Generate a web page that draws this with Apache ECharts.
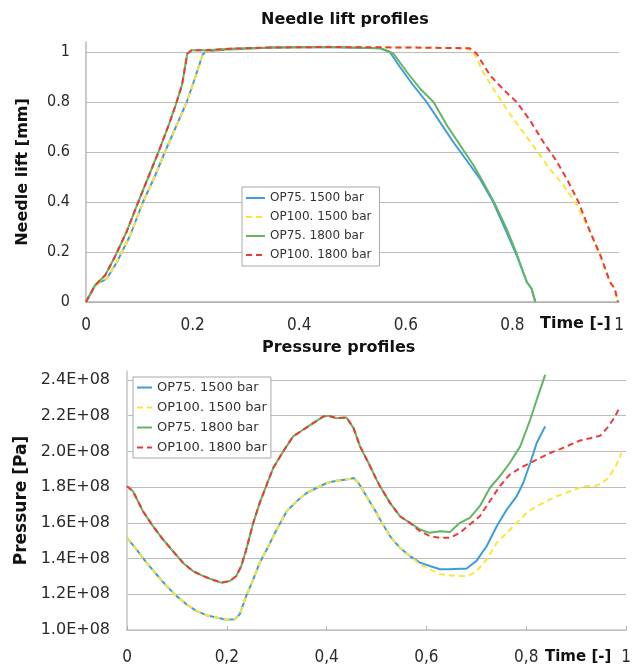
<!DOCTYPE html>
<html>
<head>
<meta charset="utf-8">
<script src="https://cdn.jsdelivr.net/npm/echarts@6/dist/echarts.min.js"></script>
<style>
  html, body { margin: 0; padding: 0; background: #fff; }
  #chart { width: 635px; height: 666px; }
</style>
</head>
<body>
<div id="chart"></div>
<script>
// Series names shared by both panels
const seriesNames = ['OP75. 1500 bar', 'OP100. 1500 bar', 'OP75. 1800 bar', 'OP100. 1800 bar'];

// ---- Needle lift [mm] vs normalised time ----
const liftRise1500 = [[0,0],[0.017,0.067],[0.039,0.093],[0.058,0.16],[0.083,0.267],[0.107,0.4],[0.13,0.507],[0.148,0.6],[0.17,0.707],[0.189,0.8],[0.204,0.893],[0.219,0.99],[0.226,1.003],[0.27,1.01],[0.35,1.018],[0.45,1.02]];
const liftRise1800 = [[0,0],[0.017,0.067],[0.036,0.107],[0.054,0.18],[0.076,0.28],[0.098,0.4],[0.117,0.5],[0.136,0.6],[0.155,0.707],[0.167,0.78],[0.18,0.867],[0.19,0.993],[0.198,1.007],[0.226,1.007],[0.27,1.013],[0.35,1.018],[0.45,1.02]];
const liftFallOP75_1500 = [[0.552,1.015],[0.57,1.0],[0.589,0.94],[0.614,0.867],[0.639,0.8],[0.664,0.72],[0.689,0.64],[0.714,0.567],[0.739,0.493],[0.764,0.4],[0.789,0.28],[0.808,0.187],[0.827,0.08],[0.836,0.053],[0.843,0]];
const liftFallOP100_1500 = [[0.6,1.018],[0.715,1.015],[0.728,0.995],[0.745,0.92],[0.77,0.833],[0.795,0.753],[0.82,0.68],[0.845,0.607],[0.87,0.533],[0.896,0.467],[0.921,0.387],[0.943,0.293],[0.965,0.187],[0.983,0.08],[0.992,0.053],[0.998,0]];
const liftFallOP75_1800 = [[0.552,1.015],[0.565,1.005],[0.577,0.993],[0.602,0.92],[0.627,0.853],[0.652,0.8],[0.677,0.707],[0.702,0.627],[0.727,0.547],[0.745,0.48],[0.767,0.393],[0.789,0.293],[0.808,0.193],[0.827,0.08],[0.836,0.053],[0.843,0]];
const liftFallOP100_1800 = [[0.6,1.018],[0.72,1.015],[0.733,0.993],[0.758,0.907],[0.783,0.85],[0.808,0.8],[0.833,0.727],[0.858,0.64],[0.88,0.573],[0.902,0.493],[0.924,0.4],[0.946,0.28],[0.965,0.187],[0.983,0.08],[0.992,0.053],[0.998,0]];

// ---- Pressure [Pa] vs normalised time ----
const press1500Common = [[0,1.516e8],[0.019,1.451e8],[0.039,1.377e8],[0.059,1.312e8],[0.079,1.247e8],[0.099,1.191e8],[0.119,1.144e8],[0.139,1.107e8],[0.159,1.083e8],[0.179,1.07e8],[0.199,1.057e8],[0.216,1.06e8],[0.226,1.088e8],[0.239,1.191e8],[0.253,1.284e8],[0.266,1.377e8],[0.28,1.451e8],[0.3,1.563e8],[0.32,1.665e8],[0.34,1.721e8],[0.36,1.767e8],[0.38,1.795e8],[0.4,1.823e8],[0.42,1.836e8],[0.44,1.842e8],[0.454,1.851e8],[0.464,1.823e8],[0.48,1.749e8],[0.5,1.656e8],[0.507,1.619e8],[0.527,1.526e8],[0.547,1.46e8],[0.567,1.414e8]];
const pressOP75_1500 = [[0.587,1.377e8],[0.607,1.358e8],[0.627,1.34e8],[0.647,1.34e8],[0.667,1.343e8],[0.68,1.343e8],[0.7,1.386e8],[0.721,1.47e8],[0.741,1.581e8],[0.761,1.674e8],[0.781,1.749e8],[0.794,1.823e8],[0.808,1.935e8],[0.821,2.047e8],[0.838,2.14e8]];
const pressOP100_1500 = [[0.587,1.367e8],[0.607,1.34e8],[0.627,1.312e8],[0.647,1.306e8],[0.667,1.302e8],[0.684,1.302e8],[0.7,1.33e8],[0.721,1.395e8],[0.741,1.488e8],[0.761,1.544e8],[0.781,1.6e8],[0.801,1.656e8],[0.821,1.693e8],[0.841,1.721e8],[0.861,1.749e8],[0.888,1.777e8],[0.915,1.805e8],[0.942,1.808e8],[0.961,1.842e8],[0.978,1.907e8],[0.991,1.991e8]];
const press1800Common = [[0,1.805e8],[0.012,1.777e8],[0.032,1.665e8],[0.052,1.581e8],[0.072,1.507e8],[0.092,1.442e8],[0.112,1.377e8],[0.132,1.33e8],[0.153,1.302e8],[0.173,1.28e8],[0.189,1.265e8],[0.206,1.274e8],[0.219,1.302e8],[0.229,1.358e8],[0.239,1.451e8],[0.253,1.6e8],[0.266,1.712e8],[0.28,1.814e8],[0.293,1.907e8],[0.313,2.0e8],[0.333,2.084e8],[0.353,2.121e8],[0.373,2.158e8],[0.393,2.195e8],[0.403,2.2e8],[0.42,2.186e8],[0.44,2.19e8],[0.454,2.13e8],[0.467,2.028e8],[0.484,1.935e8],[0.5,1.842e8],[0.507,1.805e8],[0.527,1.712e8],[0.547,1.637e8],[0.567,1.6e8]];
const pressOP75_1800 = [[0.587,1.563e8],[0.607,1.544e8],[0.627,1.553e8],[0.647,1.548e8],[0.667,1.6e8],[0.687,1.628e8],[0.707,1.693e8],[0.727,1.795e8],[0.747,1.86e8],[0.767,1.935e8],[0.788,2.028e8],[0.808,2.177e8],[0.821,2.288e8],[0.838,2.428e8]];
const pressOP100_1800 = [[0.587,1.553e8],[0.607,1.526e8],[0.627,1.516e8],[0.647,1.516e8],[0.667,1.544e8],[0.687,1.591e8],[0.707,1.637e8],[0.727,1.721e8],[0.747,1.805e8],[0.767,1.87e8],[0.788,1.907e8],[0.808,1.935e8],[0.828,1.963e8],[0.848,1.991e8],[0.868,2.013e8],[0.888,2.037e8],[0.908,2.061e8],[0.928,2.074e8],[0.948,2.087e8],[0.965,2.14e8],[0.978,2.195e8],[0.988,2.251e8]];

// Axis tick values
const timeTicks = [0, 0.2, 0.4, 0.6, 0.8, 1];
const liftTicks = [0, 0.2, 0.4, 0.6, 0.8, 1];
const pressureTicks = [1.0e8, 1.2e8, 1.4e8, 1.6e8, 1.8e8, 2.0e8, 2.2e8, 2.4e8];

const colors = ['#3d9dd8', '#fde43c', '#62b662', '#ec3b35'];
const dashed = [6, 4];
const lineTypes = ['solid', dashed, 'solid', dashed];

const narrowFont = '"Liberation Sans Narrow", "DejaVu Sans Condensed", "Liberation Sans", sans-serif';
const sansFont = '"DejaVu Sans", sans-serif';
const labelColor = '#2a2a2a';
const gridColor = '#bcbcbc';

const liftData = [
  liftRise1500.concat(liftFallOP75_1500),
  liftRise1500.concat(liftFallOP100_1500),
  liftRise1800.concat(liftFallOP75_1800),
  liftRise1800.concat(liftFallOP100_1800)
];
const pressData = [
  press1500Common.concat(pressOP75_1500),
  press1500Common.concat(pressOP100_1500),
  press1800Common.concat(pressOP75_1800),
  press1800Common.concat(pressOP100_1800)
];

function fmtTime(sep) {
  return function (v) {
    if (v === 0) return '0';
    if (v === 1) return '1';
    return v.toFixed(1).replace('.', sep);
  };
}

function makeSeries(dataSets, axisIndex) {
  return dataSets.map((d, i) => ({
    name: seriesNames[i],
    type: 'line',
    xAxisIndex: axisIndex,
    yAxisIndex: axisIndex,
    data: d,
    symbol: 'none',
    clip: false,
    animation: false,
    lineStyle: { color: colors[i], width: 2, type: lineTypes[i] },
    itemStyle: { color: colors[i] }
  }));
}

// legend shows only the line sample, no marker
const hiddenMarker = { opacity: 0, color: 'rgba(0,0,0,0)', borderWidth: 0 };

const option = {
  backgroundColor: '#fff',
  animation: false,
  title: [
    { text: 'Needle lift profiles', left: 261, top: 12, padding: 0,
      textStyle: { fontFamily: sansFont, fontWeight: 'bold', fontSize: 16, color: '#111' } },
    { text: 'Pressure profiles', left: 262, top: 340, padding: 0,
      textStyle: { fontFamily: sansFont, fontWeight: 'bold', fontSize: 16, color: '#111' } }
  ],
  legend: [
    { data: seriesNames, orient: 'vertical', left: 242, top: 187,
      padding: [5, 8, 5, 3], itemGap: 7, itemWidth: 19, itemHeight: 14,
      itemStyle: hiddenMarker,
      backgroundColor: '#fff', borderColor: '#a8a8a8', borderWidth: 1,
      textStyle: { fontFamily: sansFont, fontSize: 12, color: '#333' } },
    { data: seriesNames, orient: 'vertical', left: 133, top: 377,
      padding: [4, 4, 4, 3], itemGap: 7, itemWidth: 15, itemHeight: 14,
      itemStyle: hiddenMarker,
      backgroundColor: '#fff', borderColor: '#a8a8a8', borderWidth: 1,
      textStyle: { fontFamily: sansFont, fontSize: 13, color: '#333' } }
  ],
  grid: [
    { left: 86, right: 16, top: 42, bottom: 364 },
    { left: 127, right: 9, top: 371, bottom: 36 }
  ],
  graphic: [
    { type: 'text', left: 540, top: 316, z: 10,
      style: { text: 'Time [-]', font: 'bold 16px "DejaVu Sans", sans-serif', fill: '#111' } },
    { type: 'text', left: 545, top: 650, z: 10,
      style: { text: 'Time [-]', font: 'bold 15px "DejaVu Sans", sans-serif', fill: '#111' } }
  ],
  xAxis: [
    {
      type: 'value', gridIndex: 0, min: timeTicks[0], max: timeTicks[timeTicks.length - 1], interval: 0.2,
      axisLine: { show: true, lineStyle: { color: '#b0b0b0', width: 1.5 } },
      axisTick: { show: false },
      splitLine: { show: false },
      axisLabel: { formatter: fmtTime('.'), margin: 15, fontFamily: narrowFont, fontSize: 17, color: labelColor }
    },
    {
      type: 'value', gridIndex: 1, min: timeTicks[0], max: timeTicks[timeTicks.length - 1], interval: 0.2,
      axisLine: { show: true, lineStyle: { color: '#c4c4c4', width: 1.5 } },
      axisTick: { show: true, inside: true, length: 4, lineStyle: { color: '#b0b0b0' } },
      splitLine: { show: false },
      axisLabel: { formatter: fmtTime(','), margin: 19, fontFamily: narrowFont, fontSize: 17, color: labelColor }
    }
  ],
  yAxis: [
    {
      type: 'value', gridIndex: 0, min: liftTicks[0], max: 1.04, interval: 0.2,
      name: 'Needle lift [mm]', nameLocation: 'middle', nameGap: 55,
      nameTextStyle: { fontFamily: sansFont, fontWeight: 'bold', fontSize: 16, color: '#111' },
      axisLine: { show: true, lineStyle: { color: '#b8b8b8', width: 1.5 } },
      axisTick: { show: false },
      splitLine: { show: true, showMaxLine: false, lineStyle: { color: gridColor, width: 1.2 } },
      axisLabel: { showMaxLabel: false, margin: 16, fontFamily: narrowFont, fontSize: 16, color: labelColor,
        formatter: v => (v === 0 ? '0' : v === 1 ? '1' : v.toFixed(1)) }
    },
    {
      type: 'value', gridIndex: 1, min: pressureTicks[0], max: 2.45e8, interval: 0.2e8,
      name: 'Pressure [Pa]', nameLocation: 'middle', nameGap: 95,
      nameTextStyle: { fontFamily: sansFont, fontWeight: 'bold', fontSize: 17, color: '#111' },
      axisLine: { show: true, lineStyle: { color: '#c4c4c4', width: 1.5 } },
      axisTick: { show: false },
      splitLine: { show: true, showMaxLine: false, lineStyle: { color: gridColor, width: 1.2 } },
      axisLabel: { showMaxLabel: false, margin: 17, fontFamily: sansFont, fontSize: 16, color: labelColor,
        formatter: v => (v / 1e8).toFixed(1) + 'E+08' }
    }
  ],
  series: makeSeries(liftData, 0).concat(makeSeries(pressData, 1))
};

const chart = echarts.init(document.getElementById('chart'), null, { renderer: 'canvas' });
chart.setOption(option);
</script>
</body>
</html>
